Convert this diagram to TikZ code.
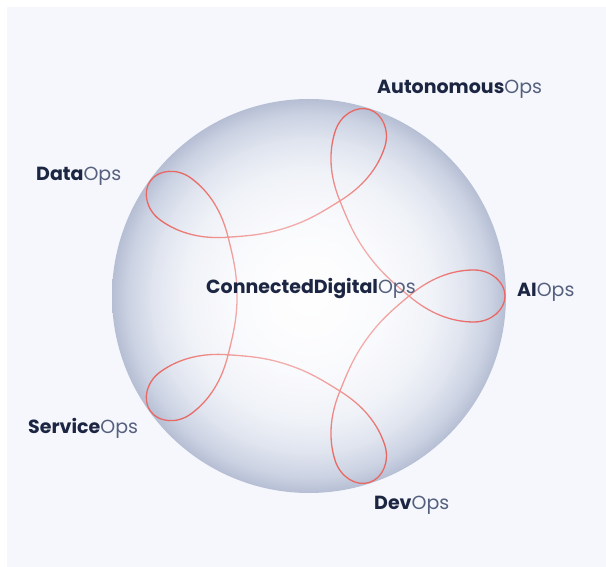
\documentclass[tikz,border=0pt]{standalone}
\usepackage{fontspec}
\setmainfont{Poppins}
\usetikzlibrary{fadings}
\definecolor{bgc}{RGB}{245,247,252}
\definecolor{navy}{RGB}{28,38,66}
\definecolor{opsc}{RGB}{84,96,126}
\definecolor{loopred}{RGB}{233,104,100}
\definecolor{s0}{RGB}{253,253,255}
\definecolor{s1}{RGB}{246,247,252}
\definecolor{s2}{RGB}{236,239,246}
\definecolor{s3}{RGB}{222,227,238}
\definecolor{s4}{RGB}{203,210,226}
\definecolor{s5}{RGB}{182,190,212}
\pgfdeclareradialshading{spheresh}{\pgfpointorigin}{color(0bp)=(s0); color(10bp)=(s1); color(16bp)=(s2); color(20bp)=(s3); color(23bp)=(s4); color(25bp)=(s5); color(50bp)=(s5)}
\tikzfading[name=centerglow, inner color=transparent!0, outer color=transparent!100]
\begin{document}
\begin{tikzpicture}[x=1pt,y=1pt,
  lab/.style={anchor=base west, inner sep=0pt, font=\fontsize{19}{21}\selectfont},
  loopline/.style={draw=loopred, line width=1.3pt}]
\useasboundingbox (0,0) rectangle (606,567);
\fill[white] (-5,-5) rectangle (611,572);
\fill[bgc] (7,-5) rectangle (611,560);
\coordinate (c) at (309,271);
\shade[shading=spheresh] (c) circle (197);
\foreach \a in {0,72,...,288} {
  \begin{scope}[shift={(c)}, rotate=\a]
  \draw[loopline] (58.2,-42.3) .. controls (71.1,-24.5) and (83.1,-14.1) .. (100,0)
    .. controls (120,17) and (142,26) .. (165,26)
    .. controls (182,26) and (196,14) .. (196,0)
    .. controls (196,-14) and (182,-26) .. (165,-26)
    .. controls (142,-26) and (120,-17) .. (100,0)
    .. controls (83.1,14.1) and (71.1,24.5) .. (58.2,42.3);
  \end{scope}
}
\fill[white, opacity=0.8, path fading=centerglow] (c) circle (165);
\node[lab] (auto) at (377,473) {\textbf{\color{navy}Autonomous}{\color{opsc}Ops}};
\node[lab] (data) at (36,386) {\textbf{\color{navy}Data}{\color{opsc}Ops}};
\node[lab] (cdo) at (206,273) {\textbf{\color{navy}ConnectedDigital}{\color{opsc}Ops}};
\node[lab] (ai) at (517,270) {\textbf{\color{navy}AI}{\color{opsc}Ops}};
\node[lab] (svc) at (28,133) {\textbf{\color{navy}Service}{\color{opsc}Ops}};
\node[lab] (dev) at (374,57) {\textbf{\color{navy}Dev}{\color{opsc}Ops}};
\end{tikzpicture}
\end{document}
